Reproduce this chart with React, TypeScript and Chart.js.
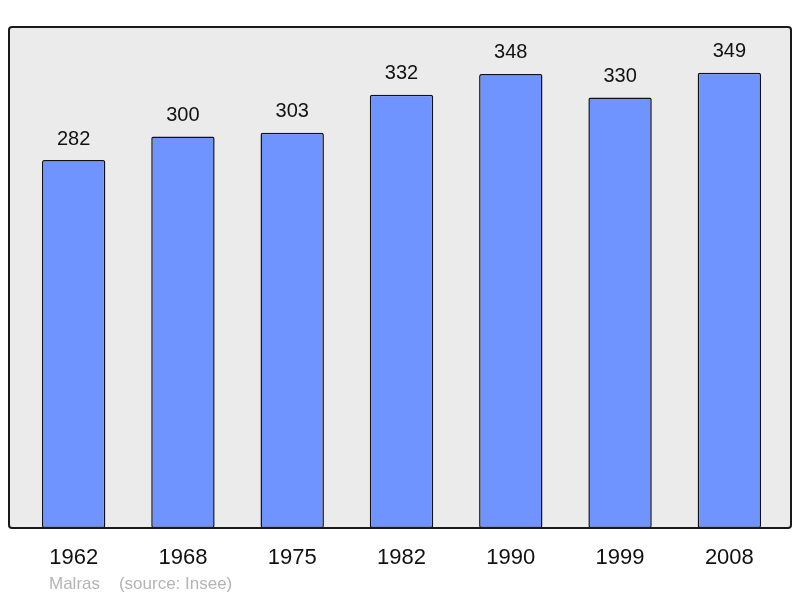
import React, { useRef, useEffect } from 'react';
import { Chart, registerables } from 'chart.js';

Chart.register(...registerables);

const years = ['1962', '1968', '1975', '1982', '1990', '1999', '2008'];
const population = [282, 300, 303, 332, 348, 330, 349];
const commune = 'Malras';
const sourceNote = '(source: Insee)';

const FONT = "'Liberation Sans', Arial, sans-serif";

// grey panel behind bars, frame stroked on top
const framePlugin = {
  id: 'frame',
  beforeDatasetsDraw(chart: any) {
    const { ctx, chartArea } = chart;
    const x = chartArea.left - 10;
    const w = chartArea.right + 7 - x;
    ctx.save();
    ctx.fillStyle = '#ebebeb';
    ctx.beginPath();
    ctx.roundRect(x, chartArea.top, w, chartArea.bottom - chartArea.top, 3);
    ctx.fill();
    ctx.restore();
  },
  afterDatasetsDraw(chart: any) {
    const { ctx, chartArea } = chart;
    const x = chartArea.left - 10;
    const w = chartArea.right + 7 - x;
    ctx.save();
    ctx.strokeStyle = '#1a1a1a';
    ctx.lineWidth = 2;
    ctx.beginPath();
    ctx.roundRect(x, chartArea.top, w, chartArea.bottom - chartArea.top, 3);
    ctx.stroke();

    // value labels above each bar
    const meta = chart.getDatasetMeta(0);
    ctx.fillStyle = '#111';
    ctx.font = `20px ${FONT}`;
    ctx.textAlign = 'center';
    ctx.textBaseline = 'bottom';
    meta.data.forEach((bar: any, i: number) => {
      ctx.fillText(String(population[i]), bar.x, bar.y - 11);
    });
    ctx.restore();
  },
};

const App: React.FC = () => {
  const canvasRef = useRef<HTMLCanvasElement>(null);

  useEffect(() => {
    if (!canvasRef.current) return;
    const chart = new Chart(canvasRef.current, {
      type: 'bar',
      data: {
        labels: years,
        datasets: [
          {
            data: population,
            backgroundColor: '#7094ff',
            borderColor: '#111',
            borderWidth: 1.5,
            borderRadius: 2,
            borderSkipped: false,
            barPercentage: 0.58,
            categoryPercentage: 1,
          },
        ],
      },
      options: {
        animation: false,
        responsive: true,
        maintainAspectRatio: false,
        layout: { padding: { left: 19, right: 16, top: 27, bottom: 0 } },
        plugins: { legend: { display: false }, tooltip: { enabled: false } },
        scales: {
          x: {
            grid: { display: false },
            border: { display: false },
            ticks: { color: '#111', font: { family: FONT, size: 22 }, padding: 9 },
            afterFit: (scale: any) => { scale.height = 70; },
          },
          y: { display: false, min: 0, max: 384 },
        },
      },
      plugins: [framePlugin],
    });
    return () => chart.destroy();
  }, []);

  return (
    <div style={{ position: 'fixed', left: 0, top: 0, width: 800, height: 598, background: '#fff' }}>
      <canvas ref={canvasRef}></canvas>
      <div
        style={{
          position: 'absolute', left: 49, top: 575, color: '#b4b4b4',
          fontFamily: FONT, fontSize: 17, lineHeight: 1, whiteSpace: 'pre',
        }}
      >
        {commune + '    ' + sourceNote}
      </div>
    </div>
  );
};

export default App;
